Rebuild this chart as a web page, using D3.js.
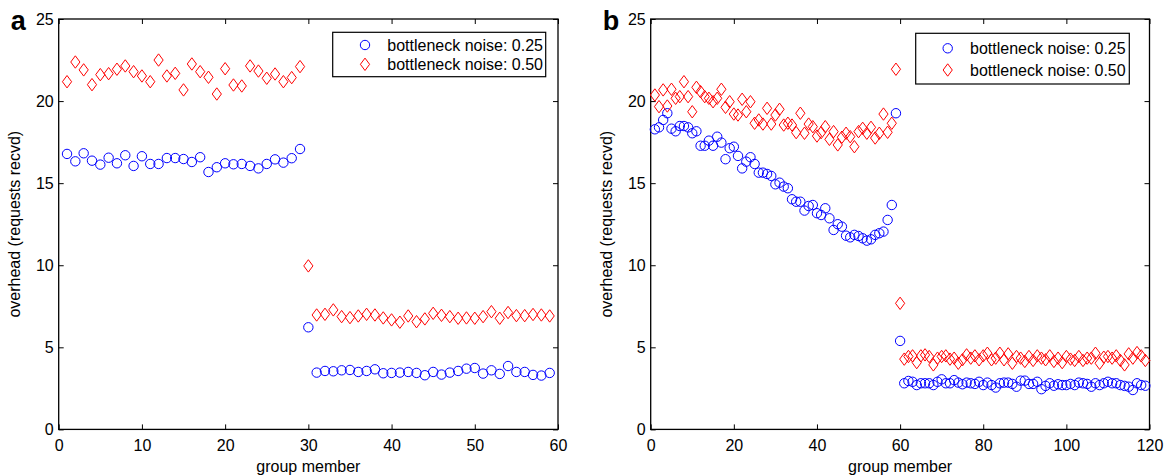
<!DOCTYPE html>
<html>
<head>
<meta charset="utf-8">
<script src="https://cdn.jsdelivr.net/npm/d3@7/dist/d3.min.js"></script>
<style>
  html, body { margin: 0; padding: 0; background: #fff; }
  svg text { font-family: "Liberation Sans", Arial, sans-serif; }
</style>
</head>
<body>
<svg id="chart" width="1171" height="475"></svg>
<script>
// ---------- DATA ----------
const seriesNames = ["bottleneck noise: 0.25", "bottleneck noise: 0.50"];
const xTicksA = [0, 10, 20, 30, 40, 50, 60];
const xTicksB = [0, 20, 40, 60, 80, 100, 120];
const yTicks = [0, 5, 10, 15, 20, 25];

const blueA = [16.78,16.33,16.82,16.37,16.13,16.55,16.21,16.70,16.05,16.64,
  16.17,16.17,16.53,16.53,16.47,16.29,16.58,15.68,15.97,16.21,
  16.15,16.17,16.05,15.90,16.17,16.45,16.25,16.52,17.08,6.22,
  3.46,3.56,3.54,3.60,3.62,3.50,3.56,3.66,3.42,3.44,
  3.46,3.50,3.44,3.30,3.50,3.34,3.46,3.56,3.70,3.74,
  3.40,3.60,3.38,3.86,3.50,3.50,3.32,3.28,3.44];
const redA = [21.18,22.38,21.90,21.00,21.61,21.67,21.94,22.14,21.79,21.53,
  21.18,22.50,21.53,21.69,20.68,22.26,21.79,21.45,20.43,21.97,
  20.98,20.92,22.14,21.83,21.39,21.65,21.18,21.43,22.10,9.96,
  6.97,7.01,7.28,6.87,6.81,6.91,7.01,6.97,6.79,6.67,
  6.53,6.91,6.56,6.73,7.07,6.95,6.87,6.77,6.79,6.77,
  6.87,7.17,6.77,7.12,6.93,6.93,7.00,6.97,6.91];

const blueB = [18.28,18.40,18.85,19.26,18.32,18.16,18.48,18.48,18.40,18.04,
  18.16,17.28,17.28,17.59,17.28,17.83,17.47,16.46,17.13,17.22,
  16.66,15.90,16.31,16.58,16.17,15.64,15.64,15.56,15.44,14.93,
  15.03,14.79,14.69,14.02,13.87,13.87,13.33,13.61,13.67,13.17,
  13.06,13.47,12.86,12.15,12.50,12.35,11.80,11.70,11.85,11.78,
  11.64,11.50,11.58,11.85,11.95,12.05,12.76,13.67,19.26,5.39,
  2.81,2.95,2.90,2.70,2.81,2.81,2.81,2.70,2.90,3.05,
  2.81,2.81,3.00,2.85,2.75,2.85,2.81,2.77,2.90,2.70,
  2.85,2.70,2.55,2.81,2.85,2.85,2.77,2.60,2.97,2.97,
  2.77,2.77,2.90,2.45,2.65,2.81,2.66,2.75,2.70,2.70,
  2.77,2.70,2.85,2.81,2.77,2.60,2.81,2.70,2.81,2.90,
  2.81,2.81,2.70,2.65,2.60,2.40,2.81,2.70,2.66];
const redB = [20.37,19.66,20.68,19.70,20.72,20.17,20.27,21.18,20.27,19.35,
  20.84,20.57,20.27,20.17,19.96,20.17,20.72,19.62,19.96,19.21,
  19.15,20.11,19.35,19.96,18.65,18.85,18.60,19.56,18.60,19.15,
  19.50,18.54,18.65,18.54,18.08,19.26,18.04,18.60,18.44,17.87,
  18.08,18.44,17.67,18.14,17.33,17.80,18.04,17.83,17.22,18.14,
  18.34,18.04,18.40,17.75,18.04,19.21,18.10,18.65,21.94,7.68,
  4.28,4.44,4.48,4.07,4.48,4.54,4.44,3.93,4.34,4.44,
  4.48,4.28,4.34,4.03,4.24,4.54,4.34,4.48,4.24,4.48,
  4.64,4.24,4.34,4.64,4.24,4.60,4.03,4.44,4.34,4.14,
  4.44,4.20,4.48,4.34,4.24,4.48,4.14,4.34,4.07,4.44,
  4.28,4.20,4.44,4.20,4.34,4.34,4.64,4.03,4.40,4.44,
  4.34,4.48,4.20,3.93,4.60,4.34,4.68,4.48,4.20];

const membersA = blueA.map((_, i) => i + 1);
const membersB = blueB.map((_, i) => i + 1);

// ---------- DRAW ----------
const svg = d3.select("#chart");
const BLUE = "#0000ff", RED = "#ff0000";

function diamondPath(cx, cy) {
  const hw = 4.6, hh = 6.2;
  return `M${cx},${cy - hh}L${cx + hw},${cy}L${cx},${cy + hh}L${cx - hw},${cy}Z`;
}

function panel(opts) {
  const { left, right, top, bottom, xMax, xTicks, members, blue, red, label, legend } = opts;
  const x = d3.scaleLinear().domain([0, xMax]).range([left, right]);
  const y = d3.scaleLinear().domain([0, 25]).range([bottom, top]);
  const g = svg.append("g");
  const tickLen = 5;

  // box
  g.append("rect").attr("x", left).attr("y", top)
    .attr("width", right - left).attr("height", bottom - top)
    .attr("fill", "none").attr("stroke", "#000").attr("stroke-width", 1.3);

  // axes with inward ticks
  const xb = d3.axisBottom(x).tickValues(xTicks).tickSize(-tickLen).tickPadding(10).tickFormat(d3.format("d"));
  const xt = d3.axisTop(x).tickValues(xTicks).tickSize(-tickLen).tickFormat("");
  const yl = d3.axisLeft(y).tickValues(yTicks).tickSize(-tickLen).tickPadding(5).tickFormat(d3.format("d"));
  const yr = d3.axisRight(y).tickValues(yTicks).tickSize(-tickLen).tickFormat("");
  [[xb, `translate(0,${bottom})`], [xt, `translate(0,${top})`],
   [yl, `translate(${left},0)`], [yr, `translate(${right},0)`]].forEach(([ax, tr]) => {
    const a = g.append("g").attr("transform", tr).call(ax);
    a.select(".domain").remove();
    a.selectAll("line").attr("stroke", "#000").attr("stroke-width", 1);
    a.selectAll("text").attr("font-size", 16).attr("fill", "#000")
      .attr("font-family", '"Liberation Sans", Arial, sans-serif');
  });

  // titles
  g.append("text").attr("x", (left + right) / 2).attr("y", 472)
    .attr("text-anchor", "middle").attr("font-size", 16).text("group member");
  g.append("text")
    .attr("transform", `translate(${left - 39},${(top + bottom) / 2}) rotate(-90)`)
    .attr("text-anchor", "middle").attr("font-size", 16).text("overhead (requests recvd)");
  g.append("text").attr("x", left - 48).attr("y", 30)
    .attr("font-size", 27).attr("font-weight", "bold").text(label);

  // data
  g.append("g").selectAll("circle").data(members).join("circle")
    .attr("cx", d => x(d)).attr("cy", (d, i) => y(blue[i])).attr("r", 4.7)
    .attr("fill", "none").attr("stroke", BLUE).attr("stroke-width", 1);
  g.append("g").selectAll("path").data(members).join("path")
    .attr("d", (d, i) => diamondPath(x(d), y(red[i])))
    .attr("fill", "none").attr("stroke", RED).attr("stroke-width", 1);

  // legend
  const lg = g.append("g");
  lg.append("rect").attr("x", legend.x0).attr("y", legend.y0)
    .attr("width", legend.x1 - legend.x0).attr("height", legend.y1 - legend.y0)
    .attr("fill", "#fff").attr("stroke", "#000").attr("stroke-width", 1.2);
  lg.append("circle").attr("cx", legend.mx).attr("cy", legend.r1).attr("r", 4.7)
    .attr("fill", "none").attr("stroke", BLUE);
  lg.append("path").attr("d", diamondPath(legend.mx, legend.r2))
    .attr("fill", "none").attr("stroke", RED);
  lg.append("text").attr("x", legend.tx).attr("y", legend.r1 + 6)
    .attr("font-size", 16).text(seriesNames[0]);
  lg.append("text").attr("x", legend.tx).attr("y", legend.r2 + 6)
    .attr("font-size", 16).text(seriesNames[1]);
}

panel({
  left: 58.7, right: 558, top: 19, bottom: 429.4, xMax: 60, xTicks: xTicksA,
  members: membersA, blue: blueA, red: redA, label: "a",
  legend: { x0: 332.7, x1: 545.7, y0: 32.3, y1: 76.7, mx: 365, tx: 387.3, r1: 45, r2: 64.3 }
});
panel({
  left: 650.7, right: 1149.5, top: 19, bottom: 429.4, xMax: 120, xTicks: xTicksB,
  members: membersB, blue: blueB, red: redB, label: "b",
  legend: { x0: 915.7, x1: 1129.3, y0: 33.3, y1: 84, mx: 947.7, tx: 970, r1: 48.3, r2: 70 }
});
</script>
</body>
</html>
